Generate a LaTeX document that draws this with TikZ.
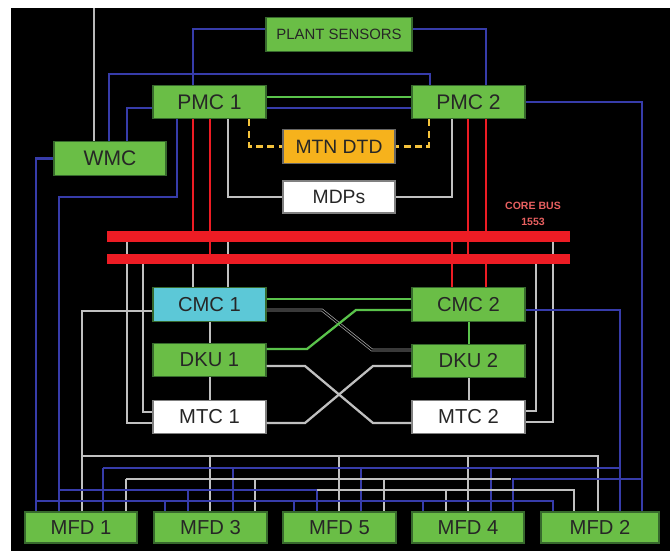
\documentclass[tikz,border=0pt]{standalone}
\usepackage{fontspec}
\setmainfont{Liberation Sans}
\usepackage{tikz}
\usetikzlibrary{calc}

\definecolor{boxgreen}{RGB}{106,190,70}
\definecolor{boxedge}{RGB}{55,105,45}
\definecolor{boxcyan}{RGB}{92,200,215}
\definecolor{boxorange}{RGB}{246,178,28}
\definecolor{wireblue}{RGB}{55,60,170}
\definecolor{wiregray}{RGB}{192,192,192}
\definecolor{wiregreen}{RGB}{90,195,75}
\definecolor{busred}{RGB}{237,28,36}
\definecolor{labelred}{RGB}{232,96,96}
\definecolor{dtdyellow}{RGB}{245,195,60}

\begin{document}
\begin{tikzpicture}[x=0.02cm, y=-0.02cm,
    every node/.style={font=\fontsize{11.5}{13}\selectfont, text=black!85},
    unit/.style={draw=boxedge, line width=0.6pt, fill=boxgreen,
                 minimum width=2.26cm, minimum height=0.67cm, inner sep=0pt},
    bar/.style={fill=busred, minimum width=9.26cm, minimum height=0.19cm, inner sep=0pt},
    bw/.style={draw=wireblue, line width=1.5pt},
    gw/.style={draw=wiregray, line width=1.3pt},
    gnw/.style={draw=wiregreen, line width=1.3pt},
    rw/.style={draw=busred, line width=1.3pt},
    yw/.style={draw=dtdyellow, line width=1.3pt, dash pattern=on 4pt off 2.5pt},
    dbl/.style={draw=gray!70, line width=0.4pt, double=black, double distance=0.8pt}]

% --- FRAME ---
\useasboundingbox (0,0) rectangle (670,551);
\fill[white] (0,0) rectangle (670,551);
\fill[black] (11,8) rectangle (670,551);

% --- UPPER TIER: PLANT AND MISSION COMPUTERS ---
\node[unit, minimum width=2.92cm, font=\fontsize{8.5}{10}\selectfont] (PS) at (339,34.5) {PLANT SENSORS};
\node[unit, font=\fontsize{12}{14}\selectfont] (PMC1) at (209.5,102) {PMC 1};
\node[unit, font=\fontsize{12}{14}\selectfont] (PMC2) at (468.5,102) {PMC 2};
\node[unit, minimum width=2.24cm, font=\fontsize{12}{14}\selectfont] (WMC) at (110,158.5) {WMC};
\node[unit, fill=boxorange, draw=black!60, minimum width=2.24cm, font=\fontsize{11}{13}\selectfont] (MTN) at (339,146.5) {MTN DTD};
\node[unit, fill=white, draw=black!50, minimum width=2.24cm, minimum height=0.64cm, font=\fontsize{11}{13}\selectfont] (MDPs) at (339,197) {MDPs};

% --- CORE BUS ---
\node[bar] (bar1) at (338.5,236.5) {};
\node[bar, minimum height=0.2cm] (bar2) at (338.5,259) {};
\node[font=\bfseries\fontsize{6}{7}\selectfont, text=labelred, align=center] (corelbl) at (533,214) {CORE BUS\\[2pt]1553};

% --- MIDDLE TIER: CMC / DKU / MTC ---
\node[unit, fill=boxcyan] (CMC1) at (209.5,304.5) {CMC 1};
\node[unit] (DKU1) at (209.5,360) {DKU 1};
\node[unit, fill=white, draw=black!50] (MTC1) at (209.5,417) {MTC 1};
\node[unit] (CMC2) at (468.5,304.5) {CMC 2};
\node[unit] (DKU2) at (468.5,361) {DKU 2};
\node[unit, fill=white, draw=black!50] (MTC2) at (468.5,417) {MTC 2};

% --- DISPLAYS ---
\node[unit, minimum width=2.24cm, minimum height=0.62cm] (MFD1) at (81,527.5) {MFD 1};
\node[unit, minimum height=0.62cm] (MFD3) at (210.5,527.5) {MFD 3};
\node[unit, minimum height=0.62cm] (MFD5) at (339.5,527.5) {MFD 5};
\node[unit, minimum width=2.24cm, minimum height=0.62cm] (MFD4) at (468,527.5) {MFD 4};
\node[unit, minimum width=2.36cm, minimum height=0.62cm] (MFD2) at (600,527.5) {MFD 2};

\coordinate (pstop) at (339,8);
\coordinate (wmctop) at (94,8);

% --- WIRING AROUND THE PMCs ---
\draw[dbl] (pstop) -- (PS.north);
\draw[draw=gray!55, line width=0.6pt] (wmctop) -- (WMC.north -| 94,0);
\draw[dbl] (PS.west |- 0,40) -| (PMC1.north -| 228,0);
\draw[dbl] (PS.east |- 0,40) -| (PMC2.north -| 452,0);
\draw[bw] (PS.west |- 0,29) -| (PMC1.north -| 193,0);
\draw[bw] (PS.east |- 0,29) -| (PMC2.north -| 486,0);
\draw[bw] (WMC.north -| 109,0) -- (109,74) -| (PMC2.north -| 430,0);
\draw[bw] (PMC1.west |- 0,108) -| (WMC.north -| 127,0);
\draw[gnw] (PMC1.east |- 0,97) -- (PMC2.west |- 0,97);
\draw[bw] (PMC1.east |- 0,108) -- (PMC2.west |- 0,108);
\draw[yw] (PMC1.south -| 249,0) |- (MTN.west);
\draw[yw] (PMC2.south -| 429,0) |- (MTN.east);
\draw[gw] (PMC1.south -| 228,0) |- (MDPs.west);
\draw[gw] (PMC2.south -| 452,0) |- (MDPs.east);

% bus taps
\draw[rw] (PMC1.south -| 193,0) -- (bar1.center -| 193,0);
\draw[rw] (PMC1.south -| 210,0) -- (bar2.center -| 210,0);
\draw[rw] (PMC2.south -| 468,0) -- (bar2.center -| 468,0);
\draw[rw] (PMC2.south -| 486,0) -- (bar1.center -| 486,0);
\draw[rw] (bar1.center -| 452,0) -- (CMC2.north -| 452,0);
\draw[rw] (bar2.center -| 486,0) -- (CMC2.north -| 486,0);
\draw[gw] (bar1.center -| 228,0) -- (CMC1.north -| 228,0);
\draw[gw] (bar2.center -| 193,0) -- (CMC1.north -| 193,0);
\draw[gw] (bar1.center -| 127,0) |- (MTC1.west |- 0,423);
\draw[gw] (bar2.center -| 143,0) |- (MTC1.west |- 0,412);
\draw[gw] (bar1.center -| 553,0) |- (MTC2.east |- 0,422);
\draw[gw] (bar2.center -| 536,0) |- (MTC2.east |- 0,411);

% --- CROSS LINKS ---
\draw[gw] (CMC1.south -| 210,0) -- (DKU1.north -| 210,0);
\draw[gw] (DKU1.south -| 210,0) -- (MTC1.north -| 210,0);
\draw[gnw] (CMC2.south -| 469,0) -- (DKU2.north -| 469,0);
\draw[gw] (DKU2.south -| 469,0) -- (MTC2.north -| 469,0);
\draw[gnw] (CMC1.east |- 0,299) -- (CMC2.west |- 0,299);
\draw[dbl] (CMC1.east |- 0,310) -- (322,310) -- (372,350) -- (DKU2.west |- 0,350);
\draw[gnw] (DKU1.east |- 0,349) -- (307,349) -- (356,310) -- (CMC2.west |- 0,310);
\draw[gw] (DKU1.east |- 0,366) -- (305,366) -- (373,423) -- (MTC2.west |- 0,423);
\draw[gw] (MTC1.east |- 0,423) -- (305,423) -- (373,366) -- (DKU2.west |- 0,366);

% --- DISPLAY FEEDS ---
\coordinate (lvA) at (0,456);
\coordinate (lvB) at (0,468);
\coordinate (lvC) at (0,479);
\coordinate (lvD) at (0,490);
\coordinate (lvE) at (0,501);

\draw[bw] (WMC.west) -| (MFD1.north -| 36,0);
\draw[bw] (PMC1.south -| 177,0) |- (59,197) -- (MFD1.north -| 59,0);
\draw[bw] (PMC2.east) -| (MFD2.north -| 642,0);
\draw[bw] (CMC2.east |- 0,310) -| (MFD2.north -| 620,0);
\draw[gw] (CMC1.west |- 0,311) -| (MFD1.north -| 82,0);

\draw[gw] (lvA -| 82,0) -| (MFD2.north -| 598,0);
\foreach \x/\m in {210/MFD3, 339/MFD5, 468/MFD4}
    \draw[gw] (lvA -| \x,0) -- (\m.north -| \x,0);

\draw[bw] (lvB -| 103,0) -- (lvB -| 620,0);
\foreach \x/\m in {103/MFD1, 233/MFD3, 361/MFD5, 491/MFD4}
    \draw[bw] (lvB -| \x,0) -- (\m.north -| \x,0);

\draw[gw] (lvC -| 126,0) -- (lvC -| 511,0);
\foreach \x/\m in {126/MFD1, 255/MFD3, 384/MFD5}
    \draw[gw] (lvC -| \x,0) -- (\m.north -| \x,0);
\draw[bw] (lvC -| 642,0) -| (MFD4.north -| 513,0);

\draw[bw] (lvD -| 59,0) -| (MFD5.north -| 317,0);
\draw[bw] (lvD -| 188,0) -- (MFD3.north -| 188,0);
\draw[gw] (lvD -| 317,0) -| (MFD2.north -| 574,0);
\draw[gw] (lvD -| 446,0) -- (MFD4.north -| 446,0);

\draw[bw] (lvE -| 36,0) -| (MFD2.north -| 553,0);
\foreach \x/\m in {165/MFD3, 294/MFD5, 423/MFD4}
    \draw[bw] (lvE -| \x,0) -- (\m.north -| \x,0);

% bars back on top of the taps
\fill[busred] (bar1.north west) rectangle (bar1.south east);
\fill[busred] (bar2.north west) rectangle (bar2.south east);

\end{tikzpicture}
\end{document}
